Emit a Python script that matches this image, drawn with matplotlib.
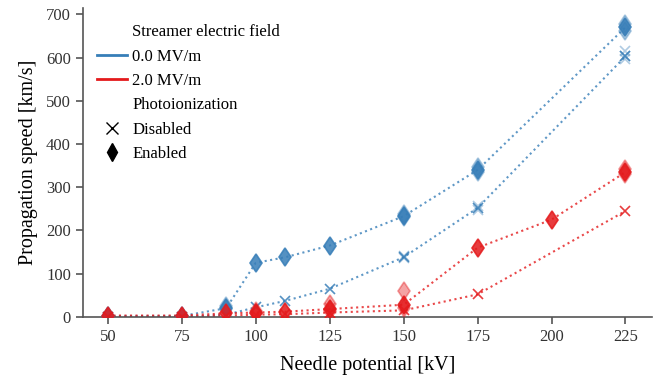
import numpy as np
import matplotlib
matplotlib.use("Agg")
from matplotlib import pyplot as plt
from matplotlib.lines import Line2D

plt.rcParams['font.family'] = ['Liberation Serif', 'DejaVu Serif']

# needle potential [kV] and mean propagation speed [km/s]
kv_blue = [50, 75, 90, 100, 110, 125, 150, 175, 225]
kv_red = [50, 75, 90, 100, 110, 125, 150, 175, 200, 225]
kv_red_off = [50, 75, 90, 100, 110, 125, 150, 175, 225]

blue_on = [2, 2, 20, 125, 138, 165, 233, 340, 670]
blue_off = [0, 0, 5, 22, 37, 65, 138, 252, 603]
red_on = [3, 3, 8, 10, 12, 18, 28, 160, 225, 335]
red_off = [0, 0, 3, 5, 6, 10, 15, 52, 245]

# individual runs (extra samples drawn faint)
blue_on_runs = {225: [662, 678], 175: [335, 347], 150: [230, 237], 90: [17, 24]}
blue_off_runs = {225: [598, 603, 615], 175: [248, 256], 150: [136, 140]}
red_on_runs = {125: [14, 30], 150: [20, 60], 225: [330, 342], 100: [8, 13]}
red_off_runs = {125: [8, 20]}

blue = '#377eb8'
red = '#e41a1c'

fig = plt.figure(figsize=(6.62, 3.79), dpi=100)
ax = fig.add_axes([0.125, 0.164, 0.86, 0.815])

def draw(kv, vals, runs, color, marker, ms):
    ax.plot(kv, vals, ls=':', color=color, lw=1.5, alpha=0.8, zorder=2)
    ax.plot(kv, vals, ls='none', marker=marker, color=color, ms=ms, mew=1.2,
            alpha=0.85, zorder=3)
    for k, v in runs.items():
        ax.plot([k] * len(v), v, ls='none', marker=marker, color=color,
                ms=ms, mew=1.2, alpha=0.4, zorder=3)

draw(kv_blue, blue_on, blue_on_runs, blue, 'd', 9.5)
draw(kv_blue, blue_off, blue_off_runs, blue, 'x', 7.5)
draw(kv_red, red_on, red_on_runs, red, 'd', 9.5)
draw(kv_red_off, red_off, red_off_runs, red, 'x', 7.5)

ax.set_xlim(41.5, 234)
ax.set_ylim(0, 715)
ax.set_xticks([50, 75, 100, 125, 150, 175, 200, 225])
ax.set_yticks(range(0, 701, 100))
ax.set_xlabel('Needle potential [kV]', fontsize=14.5, labelpad=8)
ax.set_ylabel('Propagation speed [km/s]', fontsize=14.5, labelpad=6)
ax.tick_params(labelsize=12, color='#555555', labelcolor='#333333', length=5, width=1.2)
for s in ['top', 'right']:
    ax.spines[s].set_visible(False)
for s in ['left', 'bottom']:
    ax.spines[s].set_color('#555555')
    ax.spines[s].set_linewidth(1.2)

blank = Line2D([], [], ls='none')
handles = [blank,
           Line2D([], [], color=blue, lw=2),
           Line2D([], [], color=red, lw=2),
           blank,
           Line2D([], [], ls='none', marker='x', color='black', ms=8),
           Line2D([], [], ls='none', marker='d', color='black', ms=9)]
labels = ['Streamer electric field', '0.0 MV/m', '2.0 MV/m',
          'Photoionization', 'Disabled', 'Enabled']
ax.legend(handles, labels, loc='upper left', frameon=False, fontsize=12,
          handlelength=1.8, handletextpad=0.3, borderaxespad=0.3,
          bbox_to_anchor=(0.005, 0.985))

fig.savefig('out.png', dpi=100)
